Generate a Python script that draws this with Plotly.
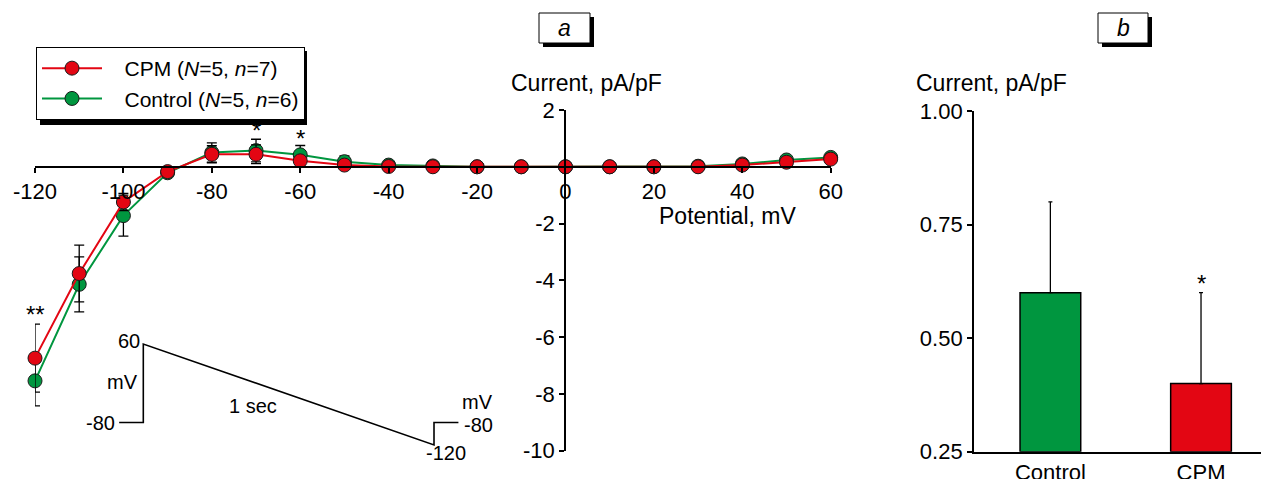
import plotly.graph_objects as go

# ---------------- data ----------------
potential = [-120, -110, -100, -90, -80, -70, -60, -50, -40, -30, -20, -10, 0, 10, 20, 30, 40, 50, 60]
cpm_current = [-6.74, -3.76, -1.24, -0.17, 0.44, 0.44, 0.21, 0.06, 0.01, 0.0, 0.0, 0.0, 0.0, 0.0, 0.0, 0.0, 0.06, 0.16, 0.27]
cpm_se = [1.2, 1.0, 0.3, 0.1, 0.3, 0.33, 0.1, 0.05, 0.03, 0.02, 0.02, 0.02, 0.02, 0.02, 0.02, 0.02, 0.03, 0.04, 0.05]
control_current = [-7.54, -4.14, -1.72, -0.21, 0.50, 0.57, 0.42, 0.18, 0.06, 0.03, 0.0, 0.0, 0.0, 0.0, 0.0, 0.02, 0.10, 0.24, 0.33]
control_se = [0.88, 0.97, 0.72, 0.1, 0.34, 0.4, 0.33, 0.2, 0.05, 0.03, 0.02, 0.02, 0.02, 0.02, 0.02, 0.02, 0.04, 0.05, 0.06]

x_ticks = [-120, -100, -80, -60, -40, -20, 0, 20, 40, 60]
x_ticklabels = ["-120", "-100", "-80", "-60", "-40", "-20", "0", "20", "40", "60"]
y_ticks = [-10, -8, -6, -4, -2, 2]
y_ticklabels = ["-10", "-8", "-6", "-4", "-2", "2"]

bar_groups = ["Control", "CPM"]
bar_values = [0.60, 0.40]
bar_se = [0.20, 0.20]
bar_ticks = [0.25, 0.50, 0.75, 1.00]

# voltage-clamp protocol (time in s, voltage in mV)
protocol_t = [-0.083, 0.0, 0.0, 1.0, 1.0, 1.084]
protocol_v = [-80, -80, 60, -120, -80, -80]

RED = "#E30613"
GREEN = "#00963F"
FONT = "Liberation Sans, Arial, sans-serif"
OFF = 8                     # default page margin of the html body
W, H = 1269 - OFF, 479 - OFF


def px(x):
    return (x - OFF) / W


def py(y):
    return 1 - (y - OFF) / H


fig = go.Figure()

# ---------------- panel a ----------------
NB = "\u00a0" * 3
fig.add_trace(go.Scatter(
    x=potential, y=control_current, mode="lines+markers",
    name=NB + "Control (<i>N</i>=5, <i>n</i>=6)",
    line=dict(color=GREEN, width=2),
    marker=dict(color=GREEN, size=14, line=dict(color="#1a1a1a", width=1)),
    error_y=dict(type="data", array=control_se, color="black", thickness=1.3, width=5),
    cliponaxis=False, xaxis="x", yaxis="y",
))
fig.add_trace(go.Scatter(
    x=potential, y=cpm_current, mode="lines+markers",
    name=NB + "CPM (<i>N</i>=5, <i>n</i>=7)",
    line=dict(color=RED, width=2),
    marker=dict(color=RED, size=14, line=dict(color="#1a1a1a", width=1)),
    error_y=dict(type="data", array=cpm_se, color="black", thickness=1.3, width=5),
    cliponaxis=False, xaxis="x", yaxis="y",
))

# protocol inset
fig.add_trace(go.Scatter(
    x=protocol_t, y=protocol_v, mode="lines",
    line=dict(color="black", width=1.6),
    showlegend=False, xaxis="x3", yaxis="y3", cliponaxis=False,
))

# ---------------- panel b ----------------
fig.add_trace(go.Bar(
    x=bar_groups, y=[v - 0.25 for v in bar_values], base=0.25,
    marker=dict(color=[GREEN, RED], line=dict(color="black", width=1.5)),
    width=0.403,
    error_y=dict(type="data", symmetric=False, array=bar_se, arrayminus=[0, 0],
                 color="black", thickness=1.3, width=2),
    showlegend=False, xaxis="x2", yaxis="y2",
))

axis_common = dict(
    showgrid=False, zeroline=False, showline=True, linecolor="black", linewidth=1.8,
    ticks="outside", ticklen=5, tickwidth=1.8, tickcolor="black", automargin=False,
    tickfont=dict(family=FONT, size=22, color="black"),
)

# inset scale: 290.7 px per second (t=0 at x=143.3), 0.561 px per mV (60 mV at y=344)
T_RANGE = [-0.15, 1.25]
V_RANGE = [-150, 80]
ix0 = 143.3 + T_RANGE[0] * 290.7
ix1 = 143.3 + T_RANGE[1] * 290.7
iy_top = 344 - (V_RANGE[1] - 60) * 0.561
iy_bot = 344 + (60 - V_RANGE[0]) * 0.561

fig.update_layout(
    template="none",
    width=W, height=H, autosize=False,
    margin=dict(l=0, r=0, t=0, b=0, pad=0),
    paper_bgcolor="white", plot_bgcolor="rgba(0,0,0,0)",
    font=dict(family=FONT, size=22, color="black"),
    xaxis=dict(domain=[px(35), px(830.7)], range=[-120, 60], anchor="free",
               position=py(166.8), tickvals=x_ticks, ticktext=x_ticklabels, **axis_common),
    yaxis=dict(domain=[py(450.7), py(110)], range=[-10, 2], anchor="free",
               position=px(565), tickvals=y_ticks, ticktext=y_ticklabels, **axis_common),
    xaxis2=dict(domain=[px(974), px(1267)], range=[-0.507, 1.438], anchor="y2",
                type="category", showgrid=False, zeroline=False, showline=True,
                linecolor="black", linewidth=1.8, ticks="", automargin=False,
                ticklabelstandoff=0,
                tickfont=dict(family=FONT, size=22, color="black")),
    yaxis2=dict(domain=[py(451.7), py(111)], range=[0.25, 1.0], anchor="x2",
                tickvals=bar_ticks, tickformat=".2f", **axis_common),
    xaxis3=dict(domain=[px(ix0), px(ix1)], range=T_RANGE, visible=False, automargin=False),
    yaxis3=dict(domain=[py(iy_bot), py(iy_top)], range=V_RANGE, visible=False, automargin=False),
    legend=dict(
        x=px(36), y=py(47), xanchor="left", yanchor="top",
        bgcolor="white", bordercolor="black", borderwidth=1,
        traceorder="reversed", itemwidth=60,
        font=dict(family=FONT, size=21, color="black"),
        tracegroupgap=0,
    ),
    showlegend=True,
)

shapes = []
# legend shadow
shapes.append(dict(type="rect", xref="paper", yref="paper",
                   x0=px(40), x1=px(307), y0=py(125), y1=py(51),
                   fillcolor="black", line=dict(width=0), layer="below"))
# panel label boxes with shadow
for x0, x1 in [(539, 590), (1098, 1148)]:
    shapes.append(dict(type="rect", xref="paper", yref="paper",
                       x0=px(x0 + 4), x1=px(x1 + 4), y0=py(47), y1=py(17),
                       fillcolor="black", line=dict(width=0)))
    shapes.append(dict(type="rect", xref="paper", yref="paper",
                       x0=px(x0), x1=px(x1), y0=py(43), y1=py(13),
                       fillcolor="white", line=dict(color="black", width=1)))
fig.update_layout(shapes=shapes)

ann = []
def A(text, x, y, xref="paper", yref="paper", size=22, xanchor="center", yanchor="middle"):
    ann.append(dict(text=text, x=x, y=y, xref=xref, yref=yref, showarrow=False,
                    xanchor=xanchor, yanchor=yanchor,
                    font=dict(family=FONT, size=size, color="black")))

A("<i>a</i>", px(564.5), py(28), size=23)
A("<i>b</i>", px(1123), py(28), size=23)
A("Current, pA/pF", px(586), py(83), size=23)
A("Current, pA/pF", px(991), py(83), size=23)
A("Potential, mV", px(727), py(216), size=23)
# significance stars
A("**", -120, -5.21, "x", "y", size=24)
A("*", -70, 1.29, "x", "y", size=24)
A("*", -60, 1.01, "x", "y", size=24)
A("*", "CPM", 0.621, "x2", "y2", size=24)
# protocol labels
A("60", -0.005, 66, "x3", "y3", size=20, xanchor="right")
A("mV", -0.012, -7, "x3", "y3", size=20, xanchor="right")
A("-80", -0.09, -80, "x3", "y3", size=20, xanchor="right")
A("1 sec", 0.377, -50, "x3", "y3", size=20)
A("mV", 1.151, -43, "x3", "y3", size=20)
A("-80", 1.095, -85, "x3", "y3", size=20, xanchor="left")
A("-120", 1.04, -135, "x3", "y3", size=20)
fig.update_layout(annotations=ann)

fig.write_html("out.html")
